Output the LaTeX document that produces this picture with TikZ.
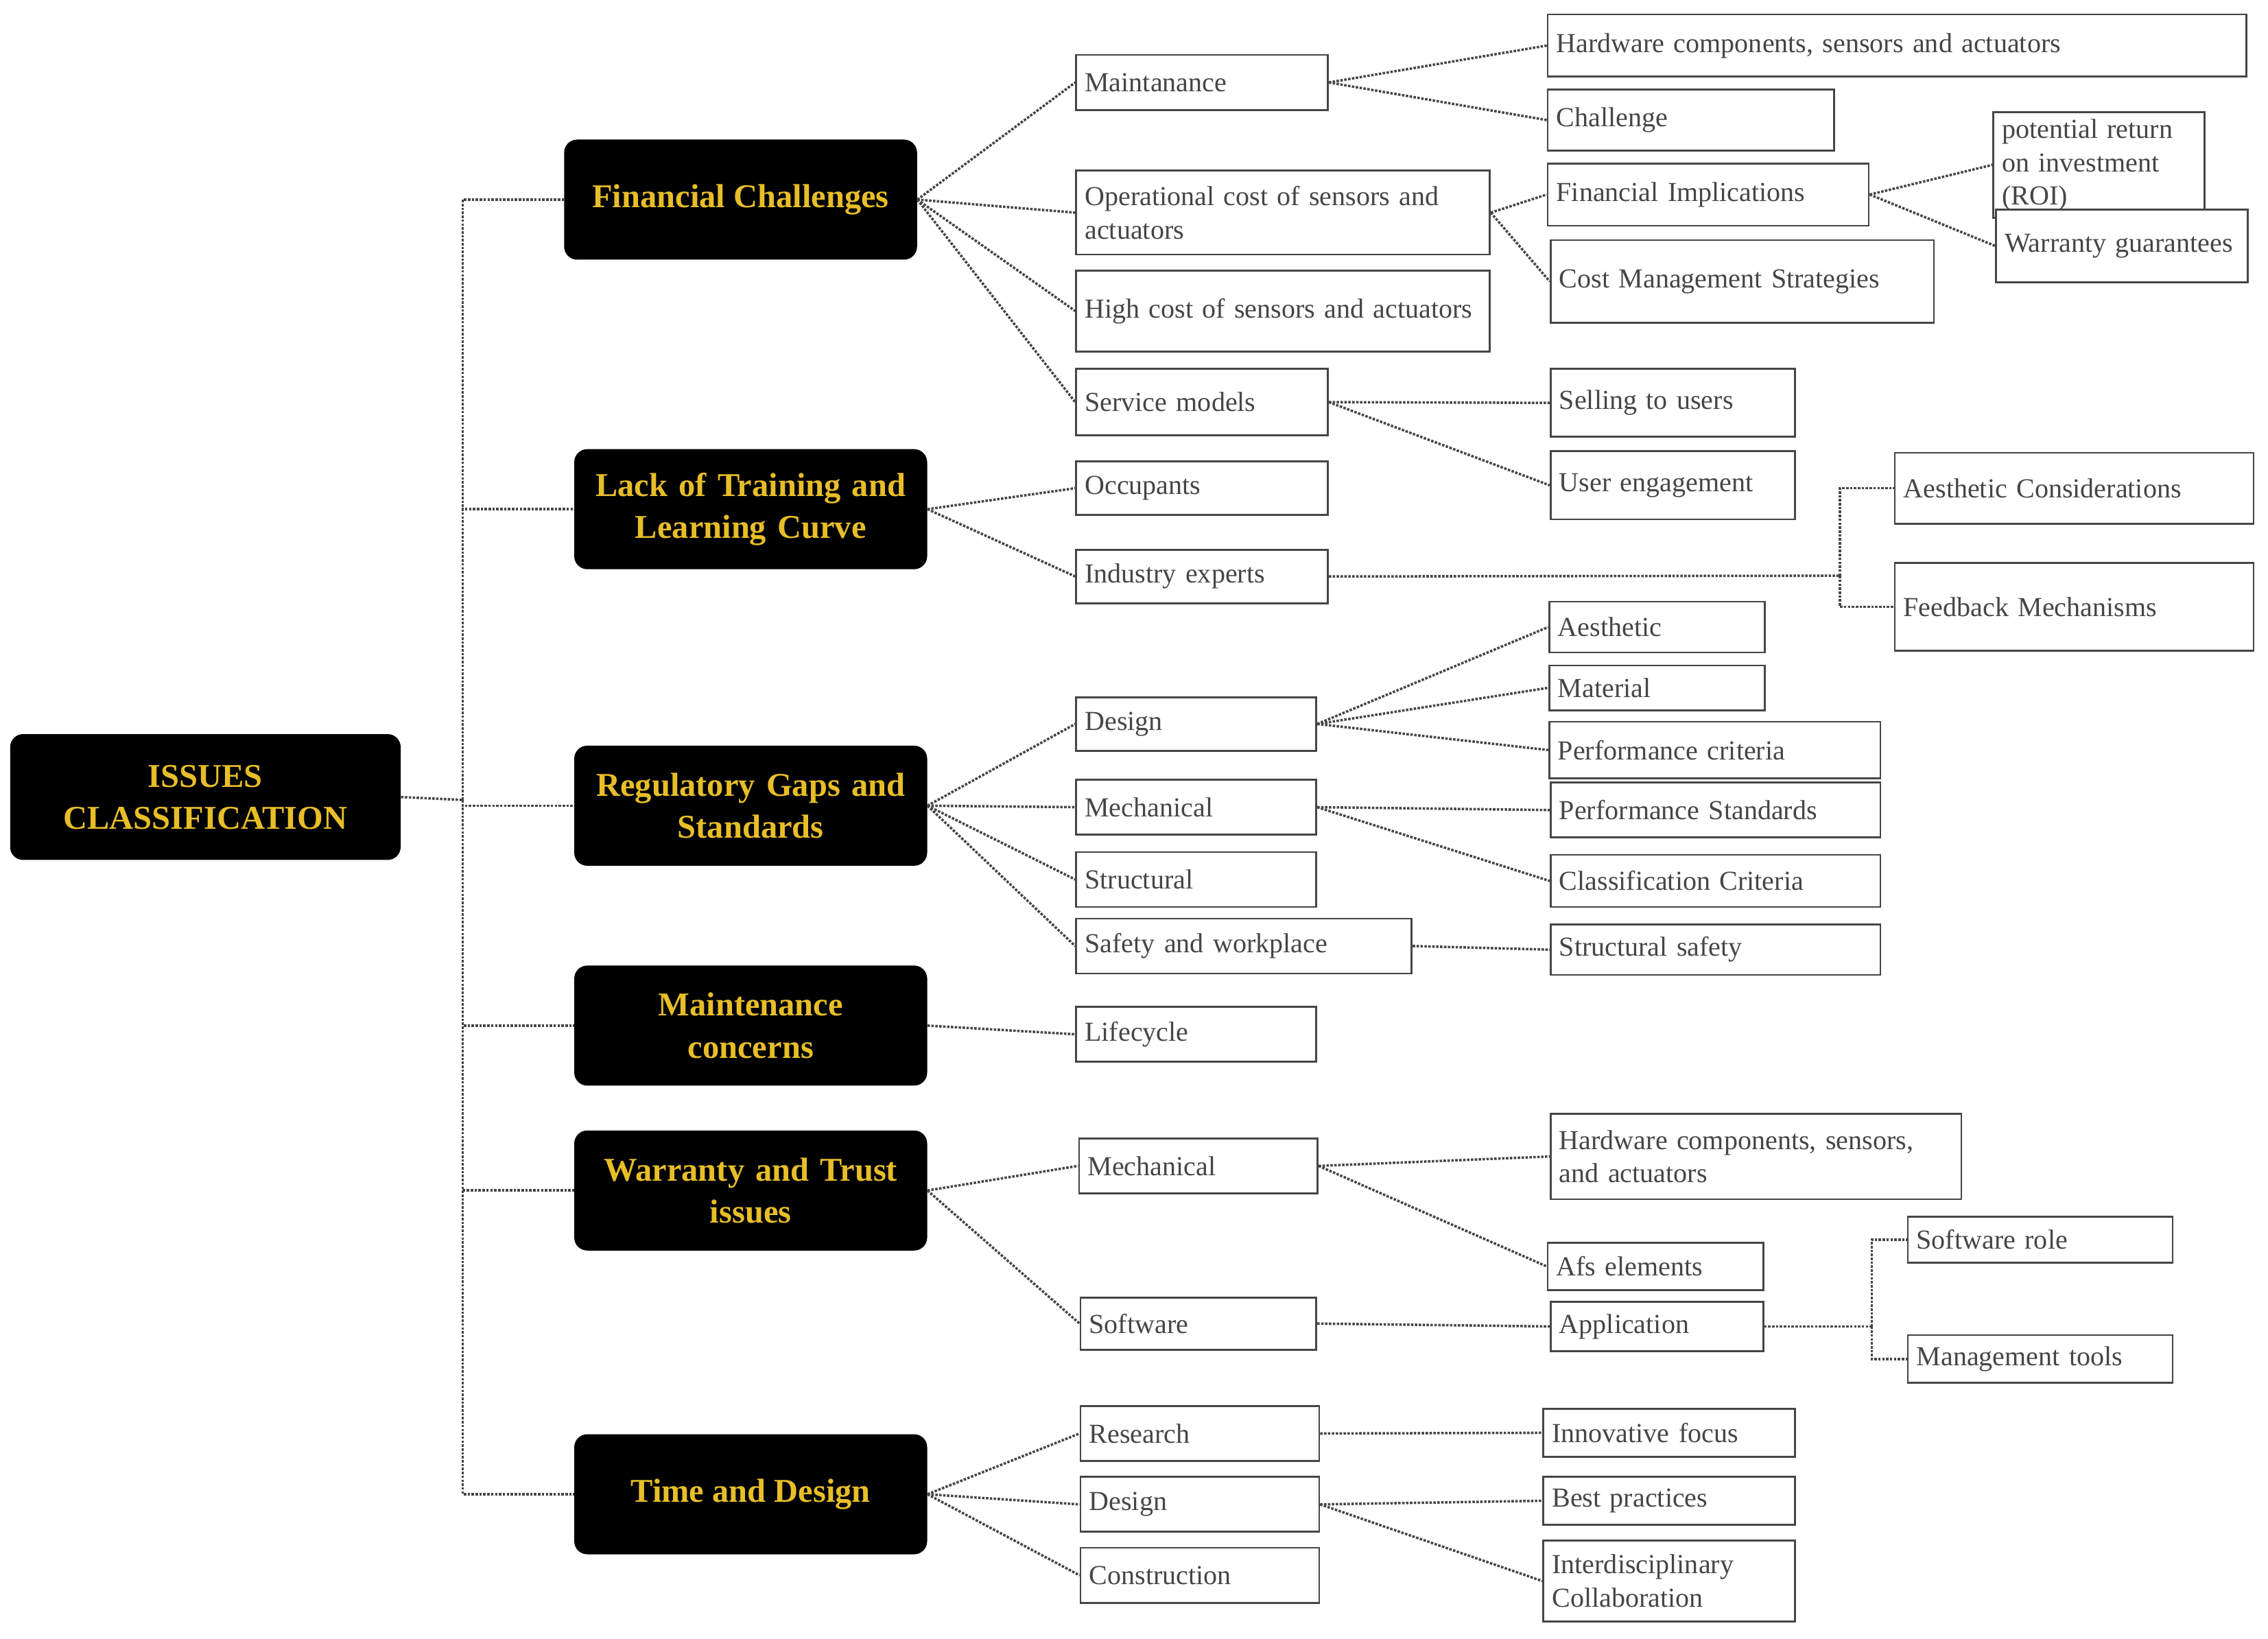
\documentclass[tikz,border=0pt]{standalone}
\usepackage{fontspec}
\setmainfont{Liberation Serif}
\definecolor{IssueGold}{RGB}{232,190,40}
\definecolor{IssueGray}{RGB}{70,70,70}
\tikzset{
  leaf/.style={draw=IssueGray, line width=1.3pt, fill=white, text=IssueGray,
    font=\fontsize{19}{23}\selectfont, align=left, inner sep=5pt},
  main/.style={fill=black, rounded corners=9pt, text=IssueGold,
    font=\fontsize{23}{29}\selectfont\bfseries, align=center},
  conn/.style={densely dotted, line width=1.7pt, draw=IssueGray}
}
% leaf box from its corners: name, x1, y1, x2, y2, text
\newcommand{\leafbox}[6]{%
  \pgfmathsetmacro\leafw{#4-#2}\pgfmathsetmacro\leaftw{#4-#2-12}%
  \node[leaf, minimum width=\leafw pt, text width=\leaftw pt, minimum height={#5-#3}]
    (#1) at ({(#2+#4)/2},{(#3+#5)/2}) {#6};}
\begin{document}
\begin{tikzpicture}[x=1pt,y=-1pt]
		\useasboundingbox (0,0) rectangle (1568,1133);
		% root and first level
		\node[main, minimum width=270, minimum height=87, text width=250] (root) at (142,551) {ISSUES\\CLASSIFICATION};
		\node[main, minimum width=244, minimum height=83] (fin) at (512,138) {Financial Challenges};
		\node[main, minimum width=244, minimum height=83, text width=234] (lack) at (519,352) {Lack of Training and\\Learning Curve};
		\node[main, minimum width=244, minimum height=83, text width=234] (reg) at (519,557) {Regulatory Gaps and\\Standards};
		\node[main, minimum width=244, minimum height=83, text width=234] (mai) at (519,709) {Maintenance\\concerns};
		\node[main, minimum width=244, minimum height=83, text width=234] (war) at (519,823) {Warranty and Trust\\issues};
		\node[main, minimum width=244, minimum height=83] (tim) at (519,1033) {Time and Design};
		% second level
		\leafbox{mnt}{744}{38}{918}{76}{Maintanance}
		\leafbox{opc}{744}{118}{1030}{176}{Operational cost of sensors and actuators}
		\leafbox{hic}{744}{187}{1030}{243}{High cost of sensors and actuators}
		\leafbox{svm}{744}{255}{918}{301}{Service models}
		\leafbox{occ}{744}{319}{918}{356}{Occupants}
		\leafbox{ixp}{744}{380}{918}{417}{Industry experts}
		\leafbox{dsg}{744}{482}{910}{519}{Design}
		\leafbox{mec}{744}{539}{910}{577}{Mechanical}
		\leafbox{str}{744}{589}{910}{627}{Structural}
		\leafbox{saf}{744}{635}{976}{673}{Safety and workplace}
		\leafbox{lfc}{744}{696}{910}{734}{Lifecycle}
		\leafbox{wmec}{746}{787}{911}{825}{Mechanical}
		\leafbox{sfw}{747}{897}{910}{933}{Software}
		\leafbox{res}{747}{972}{912}{1010}{Research}
		\leafbox{tdsg}{747}{1021}{912}{1059}{Design}
		\leafbox{con}{747}{1070}{912}{1108}{Construction}
		% third level
		\leafbox{hwa}{1070}{10}{1553}{53}{Hardware components, sensors and actuators}
		\leafbox{chl}{1070}{62}{1268}{104}{Challenge}
		\leafbox{fim}{1070}{113}{1292}{156}{Financial Implications}
		\leafbox{cms}{1072}{166}{1337}{223}{Cost Management Strategies}
		\leafbox{sel}{1072}{255}{1241}{302}{Selling to users}
		\leafbox{uen}{1072}{312}{1241}{359}{User engagement}
		\leafbox{aes}{1310}{313}{1558}{362}{Aesthetic Considerations}
		\leafbox{fbm}{1310}{389}{1558}{450}{Feedback Mechanisms}
		\leafbox{aet}{1071}{416}{1220}{451}{Aesthetic}
		\leafbox{mat}{1071}{460}{1220}{491}{Material}
		\leafbox{pcr}{1071}{499}{1300}{538}{Performance criteria}
		\leafbox{pst}{1072}{541}{1300}{579}{Performance Standards}
		\leafbox{ccr}{1072}{591}{1300}{627}{Classification Criteria}
		\leafbox{sts}{1072}{639}{1300}{674}{Structural safety}
		\leafbox{hwb}{1072}{770}{1356}{829}{Hardware components, sensors, and actuators}
		\leafbox{afs}{1070}{859}{1219}{892}{Afs elements}
		\leafbox{app}{1072}{900}{1219}{934}{Application}
		\leafbox{swr}{1319}{841}{1502}{873}{Software role}
		\leafbox{mgt}{1319}{923}{1502}{956}{Management tools}
		\leafbox{inn}{1067}{974}{1241}{1007}{Innovative focus}
		\leafbox{bpr}{1067}{1021}{1241}{1054}{Best practices}
		\leafbox{idc}{1067}{1065}{1241}{1121}{Interdisciplinary Collaboration}
		% fourth level
		\leafbox{roi}{1378}{91}{1524}{137}{potential return on investment (ROI)}
		\leafbox{wgu}{1380}{145}{1554}{195}{Warranty guarantees}
		% trunk
		\coordinate (trunk) at (320,553);
		\draw[conn] (root.east) -- (trunk);
		\foreach \n in {fin,lack,reg,mai,war,tim}
			\draw[conn] (trunk) |- (\n.west);
		% straight links
		\foreach \a/\b in {fin/mnt,fin/opc,fin/hic,fin/svm,mnt/hwa,mnt/chl,opc/fim,opc/cms,
			fim/roi,fim/wgu,svm/sel,svm/uen,lack/occ,lack/ixp,reg/dsg,reg/mec,reg/str,reg/saf,
			dsg/aet,dsg/mat,dsg/pcr,mec/pst,mec/ccr,saf/sts,mai/lfc,war/wmec,war/sfw,
			wmec/hwb,wmec/afs,sfw/app,tim/res,tim/tdsg,tim/con,res/inn,tdsg/bpr,tdsg/idc}
			\draw[conn] (\a.east) -- (\b.west);
		% elbow links
		\coordinate (ixpj) at (1272,398);
		\draw[conn] (ixp.east) -- (ixpj);
		\draw[conn] (ixpj) |- (aes.west);
		\draw[conn] (ixpj) |- (fbm.west);
		\coordinate (appj) at (1294,917);
		\draw[conn] (app.east) -- (appj);
		\draw[conn] (appj) |- (swr.west);
		\draw[conn] (appj) |- (mgt.west);
	\end{tikzpicture}
\end{document}
